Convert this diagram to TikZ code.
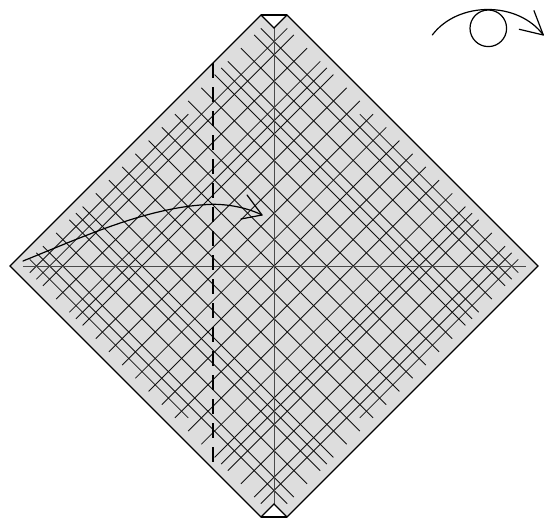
\documentclass[tikz,border=0pt]{standalone}
\definecolor{paper}{HTML}{DDDDDD}
\definecolor{axisline}{HTML}{4A4A4A}
\definecolor{creaseline}{HTML}{111111}
\tikzset{
  x=1pt,y=-1pt,
  edgeline/.style={line width=1.1pt,black,line join=miter},
  crease/.style={line width=0.85pt,creaseline},
  axisfold/.style={line width=1pt,axisline},
  valley/.style={line width=1.2pt,black,dash pattern=on 15pt off 9pt},
  movearrow/.style={line width=1.2pt,black,line cap=round,line join=round},
}
% #1 = offset on the axis, #2,#3 = range along the line, all in units of 13.2
\newcommand{\backline}[3]{%
  \draw[crease] ({274+13.2*(#1+#2)/2},{266+13.2*(#2-#1)/2})--({274+13.2*(#1+#3)/2},{266+13.2*(#3-#1)/2});}
\newcommand{\foreline}[3]{%
  \draw[crease] ({274+13.2*(#1+#2)/2},{266+13.2*(#1-#2)/2})--({274+13.2*(#1+#3)/2},{266+13.2*(#1-#3)/2});}
\begin{document}
\begin{tikzpicture}
\useasboundingbox (0,0) rectangle (547,522);
% paper
\fill[paper] (261,15)--(274,28)--(287,15)--(538,266)--(287,517)--(274,504)--(261,517)--(10,266)--cycle;
% creases
\foreach \k in {-17,-16,-14,-12,-11,-10,-8,-6,-4,-2,0,2,4,6,8,10,11,12,14,16,17}{
  \backline{\k}{-19}{19}
  \foreline{\k}{-19}{19}
}
\backline{18}{-5}{19}
\backline{-18}{-19}{5}
\foreline{18}{-5}{19}
\foreline{-18}{-19}{5}
\draw[axisfold] (274,28)--(274,504);
\draw[axisfold] (23,266)--(526,266);
% outline
\draw[edgeline] (261,15)--(274,28)--(287,15)--(538,266)--(287,517)--(274,504)--(261,517)--(10,266)--cycle;
\draw[edgeline] (261,15)--(287,15);
\draw[edgeline] (261,517)--(287,517);
% valley fold
\draw[valley] (213,63)--(213,465);
% move arrow
\draw[movearrow] (23,261) .. controls (85,236) and (150,206) .. (213,204.3) .. controls (232,204.3) and (250,209) .. (262,215);
\draw[movearrow] (247,195)--(262,215)--(241,219);
% view symbol
\draw[movearrow] (488.3,28.3) circle[radius=18.3];
\draw[movearrow] (432.3,35) .. controls (458,1) and (518,1) .. (543.3,35);
\draw[movearrow] (534,10.7)--(543.3,35)--(519.3,29.3);
\end{tikzpicture}
\end{document}
